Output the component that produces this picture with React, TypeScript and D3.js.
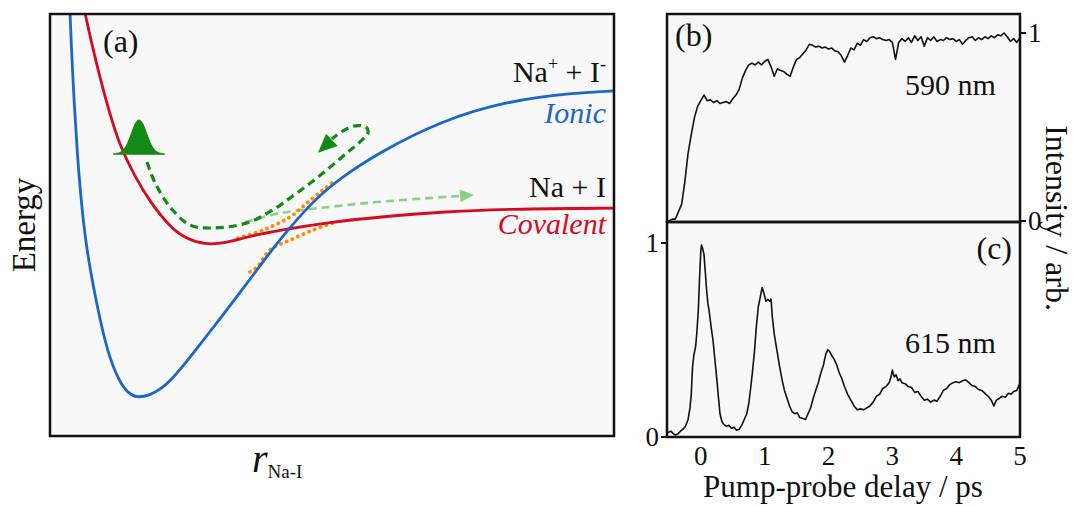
import React from "react";
import * as d3 from "d3";

// ---------------- Panel (a): schematic potential curves (arbitrary units) ----------------
const ionicR = [0.32, 0.337, 0.355, 0.39, 0.426, 0.479, 0.55, 0.638, 0.762, 0.887, 1.046, 1.241, 1.383, 1.543, 1.773, 1.968, 2.163, 2.394, 2.695, 3.05, 3.404, 3.759, 4.113, 4.663, 5.142, 5.851, 6.915, 8.103, 9.273, 10.0, 10.3];
const ionicE = [11.2, 10.57, 10.0, 8.91, 7.96, 6.78, 5.59, 4.53, 3.58, 2.75, 1.87, 1.26, 1.02, 0.9, 0.97, 1.11, 1.35, 1.71, 2.23, 2.84, 3.46, 4.1, 4.72, 5.57, 6.11, 6.73, 7.46, 7.94, 8.13, 8.18, 8.19];

const covalentR = [0.52, 0.55, 0.621, 0.727, 0.887, 1.064, 1.241, 1.507, 1.773, 2.128, 2.394, 2.748, 3.103, 3.493, 4.078, 4.965, 5.851, 6.915, 8.103, 10.0, 10.3];
const covalentE = [11.2, 10.57, 10.0, 9.38, 8.48, 7.61, 6.87, 6.14, 5.55, 4.95, 4.69, 4.53, 4.57, 4.72, 4.88, 5.07, 5.19, 5.31, 5.38, 5.4, 5.4];

// adiabatic (avoided crossing) curves, dotted
const upperAdiaR = [3.333, 3.777, 4.255, 4.557, 4.84, 5.018];
const upperAdiaE = [4.69, 4.88, 5.19, 5.52, 5.83, 6.02];
const lowerAdiaR = [3.546, 3.67, 3.901, 4.255, 4.663, 5.018];
const lowerAdiaE = [3.89, 4.0, 4.41, 4.64, 4.88, 5.05];

// wavepacket
const packetR = [1.117, 1.223, 1.294, 1.365, 1.436, 1.507, 1.578, 1.649, 1.72, 1.791, 1.862, 1.933, 2.039];
const packetH = [0, 0.024, 0.083, 0.223, 0.455, 0.699, 0.806, 0.699, 0.455, 0.223, 0.083, 0.024, 0];
const packetBase = 6.68;

// trajectory of the wavepacket (dark green dashed) and its arrow tip
const trajR = [1.72, 1.862, 2.128, 2.482, 2.89, 3.493, 3.954, 4.379, 4.84, 5.266, 5.496, 5.638, 5.603, 5.408, 5.195, 5.0];
const trajE = [6.49, 6.0, 5.43, 5.0, 4.93, 5.05, 5.36, 5.76, 6.23, 6.71, 6.97, 7.18, 7.32, 7.35, 7.23, 7.04];
const trajTip = [4.752, 6.71];

// dissociating fraction (light green dashed)
const leakR = [3.457, 4.078, 4.965, 5.851, 7.27];
const leakE = [5.07, 5.28, 5.43, 5.55, 5.69];
const leakTip = [7.518, 5.71];

// ---------------- Panel (b): 590 nm ----------------
const delay590 = [-0.53, -0.5, -0.45, -0.4, -0.35, -0.3, -0.25, -0.2, -0.15, -0.1, -0.05, 0.0, 0.05, 0.1, 0.15, 0.2, 0.25, 0.3, 0.35, 0.4, 0.45, 0.5, 0.55, 0.6, 0.65, 0.7, 0.75, 0.8, 0.85, 0.9, 0.95, 1.0, 1.05, 1.1, 1.15, 1.2, 1.25, 1.3, 1.35, 1.4, 1.45, 1.5, 1.55, 1.6, 1.65, 1.7, 1.75, 1.8, 1.85, 1.9, 1.95, 2.0, 2.05, 2.1, 2.15, 2.2, 2.25, 2.3, 2.35, 2.4, 2.45, 2.5, 2.55, 2.6, 2.65, 2.7, 2.75, 2.8, 2.85, 2.9, 2.95, 3.0, 3.05, 3.1, 3.15, 3.2, 3.25, 3.3, 3.35, 3.4, 3.45, 3.5, 3.55, 3.6, 3.65, 3.7, 3.75, 3.8, 3.85, 3.9, 3.95, 4.0, 4.05, 4.1, 4.15, 4.2, 4.25, 4.3, 4.35, 4.4, 4.45, 4.5, 4.55, 4.6, 4.65, 4.7, 4.75, 4.8, 4.85, 4.9, 4.95, 5.0];
const signal590 = [0.0, 0.0, 0.01, 0.01, 0.05, 0.09, 0.21, 0.36, 0.46, 0.55, 0.61, 0.64, 0.67, 0.64, 0.645, 0.63, 0.64, 0.625, 0.63, 0.635, 0.625, 0.65, 0.67, 0.7, 0.76, 0.8, 0.83, 0.84, 0.83, 0.845, 0.83, 0.85, 0.86, 0.82, 0.77, 0.81, 0.8, 0.795, 0.78, 0.77, 0.82, 0.86, 0.87, 0.89, 0.91, 0.94, 0.935, 0.925, 0.93, 0.92, 0.925, 0.915, 0.92, 0.905, 0.9, 0.88, 0.845, 0.88, 0.92, 0.91, 0.945, 0.935, 0.965, 0.955, 0.975, 0.98, 0.97, 0.975, 0.965, 0.96, 0.965, 0.95, 0.86, 0.95, 0.97, 0.955, 0.975, 0.95, 0.985, 0.96, 0.98, 0.93, 0.975, 0.96, 0.98, 0.955, 0.965, 0.96, 0.975, 0.965, 0.97, 0.955, 0.965, 0.94, 0.96, 0.975, 0.98, 0.96, 0.975, 0.965, 0.98, 0.97, 0.985, 0.975, 0.99, 0.985, 1.0, 0.98, 0.955, 0.97, 0.95, 0.975];

// ---------------- Panel (c): 615 nm ----------------
const delay615 = [-0.53, -0.5, -0.47, -0.44, -0.4, -0.36, -0.32, -0.28, -0.24, -0.2, -0.17, -0.15, -0.13, -0.11, -0.08, -0.06, -0.04, -0.02, 0.0, 0.01, 0.03, 0.05, 0.07, 0.09, 0.11, 0.13, 0.16, 0.19, 0.22, 0.25, 0.28, 0.3, 0.33, 0.36, 0.4, 0.44, 0.48, 0.52, 0.56, 0.6, 0.64, 0.68, 0.72, 0.75, 0.78, 0.81, 0.84, 0.87, 0.9, 0.93, 0.96, 0.99, 1.02, 1.05, 1.08, 1.1, 1.12, 1.15, 1.19, 1.23, 1.27, 1.31, 1.35, 1.39, 1.43, 1.47, 1.51, 1.55, 1.6, 1.64, 1.68, 1.72, 1.76, 1.8, 1.84, 1.88, 1.92, 1.96, 1.99, 2.02, 2.05, 2.09, 2.13, 2.17, 2.21, 2.25, 2.3, 2.35, 2.4, 2.45, 2.5, 2.55, 2.6, 2.65, 2.7, 2.75, 2.8, 2.85, 2.9, 2.95, 2.98, 3.0, 3.03, 3.06, 3.09, 3.12, 3.15, 3.2, 3.25, 3.3, 3.35, 3.4, 3.45, 3.5, 3.55, 3.6, 3.65, 3.7, 3.75, 3.8, 3.85, 3.9, 3.95, 4.0, 4.05, 4.1, 4.15, 4.2, 4.25, 4.3, 4.35, 4.4, 4.45, 4.5, 4.55, 4.59, 4.63, 4.68, 4.72, 4.77, 4.82, 4.86, 4.9, 4.95, 5.0];
const signal615 = [0.02, 0.025, 0.03, 0.02, 0.01, 0.015, 0.03, 0.04, 0.055, 0.09, 0.15, 0.22, 0.36, 0.42, 0.47, 0.55, 0.65, 0.82, 0.96, 0.99, 0.97, 0.94, 0.85, 0.76, 0.69, 0.65, 0.57, 0.5, 0.4, 0.3, 0.19, 0.12, 0.08, 0.065, 0.055, 0.06, 0.045, 0.05, 0.035, 0.04, 0.06, 0.09, 0.12, 0.17, 0.25, 0.34, 0.44, 0.57, 0.67, 0.72, 0.77, 0.74, 0.7, 0.71, 0.7, 0.71, 0.62, 0.53, 0.45, 0.37, 0.3, 0.24, 0.2, 0.16, 0.13, 0.12, 0.125, 0.1, 0.095, 0.09, 0.12, 0.15, 0.2, 0.24, 0.28, 0.33, 0.37, 0.43, 0.45, 0.44, 0.42, 0.4, 0.37, 0.33, 0.3, 0.26, 0.22, 0.19, 0.16, 0.14, 0.145, 0.14, 0.15, 0.16, 0.18, 0.21, 0.22, 0.25, 0.26, 0.28, 0.31, 0.345, 0.31, 0.32, 0.29, 0.3, 0.28, 0.275, 0.26, 0.255, 0.23, 0.235, 0.21, 0.19, 0.195, 0.18, 0.19, 0.185, 0.21, 0.24, 0.25, 0.27, 0.28, 0.285, 0.28, 0.29, 0.295, 0.28, 0.265, 0.26, 0.245, 0.24, 0.225, 0.21, 0.19, 0.16, 0.19, 0.2, 0.21, 0.205, 0.225, 0.22, 0.235, 0.24, 0.28];

const delayTicks = [0, 1, 2, 3, 4, 5];
const intensityTicks = [0, 1];

const FONT = "'Liberation Serif', 'Times New Roman', Times, serif";
const BLUE = "#1b66c9";
const RED = "#d60a20";
const GREEN = "#138a13";
const LIGHTGREEN = "#8ccf8c";
const ORANGE = "#ff8c00";
const PANEL_BG = "#f8f8f8";

function arrowHead(tip: [number, number], from: [number, number], len: number, halfW: number) {
  const dx = tip[0] - from[0];
  const dy = tip[1] - from[1];
  const d = Math.hypot(dx, dy) || 1;
  const ux = dx / d, uy = dy / d;
  const bx = tip[0] - ux * len, by = tip[1] - uy * len;
  const nx = -uy, ny = ux;
  return `${tip[0]},${tip[1]} ${bx + nx * halfW},${by + ny * halfW} ${bx - nx * halfW},${by - ny * halfW}`;
}

export default function App() {
  // panel (a) geometry
  const aL = 50, aR = 614, aT = 14, aB = 436;
  const xA = d3.scaleLinear().domain([0, 10]).range([aL, aR]);
  const yA = d3.scaleLinear().domain([0, 10]).range([aB, aT]);

  const pts = (rs: number[], es: number[]) => rs.map((r, i) => [r, es[i]] as [number, number]);
  const lineA = d3.line<[number, number]>().x(d => xA(d[0])).y(d => yA(d[1])).curve(d3.curveCatmullRom.alpha(0.5));
  const smoothA = d3.line<[number, number]>().x(d => xA(d[0])).y(d => yA(d[1])).curve(d3.curveBasis);

  const packetArea = d3
    .area<number>()
    .x((_, i) => xA(packetR[i]))
    .y0(() => yA(packetBase))
    .y1((h) => yA(packetBase + h))
    .curve(d3.curveMonotoneX);

  const trajPts = pts(trajR, trajE);
  const trajLast = trajPts[trajPts.length - 1];
  const trajArrow = arrowHead([xA(trajTip[0]), yA(trajTip[1])], [xA(trajLast[0]) + 3, yA(trajLast[1]) - 2], 19, 8.5);
  const leakPts = pts(leakR, leakE);
  const leakLast = leakPts[leakPts.length - 1];
  const leakArrow = arrowHead([xA(leakTip[0]), yA(leakTip[1])], [xA(leakLast[0]), yA(leakLast[1])], 14, 6.5);

  // panels (b), (c)
  const pL = 667, pR = 1020, bT = 14, mid = 222, cB = 437;
  const xT = d3.scaleLinear().domain([-0.53, 5]).range([pL, pR]);
  const yB = d3.scaleLinear().domain([0, 1]).range([221, 33]);
  const yC = d3.scaleLinear().domain([0, 1]).range([437, 243]);

  const line590 = d3.line<number>().x((_, i) => xT(delay590[i])).y(v => yB(v));
  const line615 = d3.line<number>().x((_, i) => xT(delay615[i])).y(v => yC(v));

  return (
    <svg
      width={1079}
      height={506}
      viewBox="0 0 1079 506"
      fontFamily={FONT}
      style={{ position: "absolute", left: 0, top: 0, background: "#fff", fontFamily: FONT }}
    >
      <defs>
        <clipPath id="clipA">
          <rect x={aL} y={aT} width={aR - aL} height={aB - aT} />
        </clipPath>
      </defs>

      {/* ---------- Panel (a) ---------- */}
      <rect x={aL} y={aT} width={aR - aL} height={aB - aT} fill={PANEL_BG} />
      <g clipPath="url(#clipA)">
        <path d={lineA(leakPts) || ""} fill="none" stroke={LIGHTGREEN} strokeWidth={2.6} strokeDasharray="8 5" />
        <polygon points={leakArrow} fill={LIGHTGREEN} />
        <path d={lineA(pts(upperAdiaR, upperAdiaE)) || ""} fill="none" stroke={ORANGE} strokeWidth={3.8} strokeDasharray="0.1 6" strokeLinecap="round" />
        <path d={lineA(pts(lowerAdiaR, lowerAdiaE)) || ""} fill="none" stroke={ORANGE} strokeWidth={3.8} strokeDasharray="0.1 6" strokeLinecap="round" />
        <path d={smoothA(pts(covalentR, covalentE)) || ""} fill="none" stroke={RED} strokeWidth={2.8} />
        <path d={smoothA(pts(ionicR, ionicE)) || ""} fill="none" stroke={BLUE} strokeWidth={2.8} />
        <path d={lineA(trajPts) || ""} fill="none" stroke={GREEN} strokeWidth={3.2} strokeDasharray="8 5" />
        <polygon points={trajArrow} fill={GREEN} />
        <path d={packetArea(packetH) || ""} fill={GREEN} stroke={GREEN} strokeWidth={1.2} />
      </g>
      <rect x={aL} y={aT} width={aR - aL} height={aB - aT} fill="none" stroke="#111" strokeWidth={2.5} />

      <text x={103} y={52} fontSize={32} fill="#111">(a)</text>
      <text x={606} y={82} fontSize={30} textAnchor="end" fill="#111">
        Na<tspan fontSize={18} dy={-12}>+</tspan>
        <tspan dy={12}> + I</tspan>
        <tspan fontSize={18} dy={-12}>-</tspan>
      </text>
      <text x={606} y={123} fontSize={30} textAnchor="end" fontStyle="italic" fill={BLUE}>Ionic</text>
      <text x={606} y={197} fontSize={30} textAnchor="end" fill="#111">Na + I</text>
      <text x={606} y={234} fontSize={30} textAnchor="end" fontStyle="italic" fill={RED}>Covalent</text>

      <text transform="translate(35,225) rotate(-90)" fontSize={33} textAnchor="middle" fill="#111">Energy</text>
      <text x={252} y={472} fontSize={40} fontStyle="italic" fill="#111">
        r<tspan fontSize={19} fontStyle="normal" dy={6}>Na-I</tspan>
      </text>

      {/* ---------- Panels (b) & (c) ---------- */}
      <rect x={pL} y={bT} width={pR - pL} height={cB - bT} fill={PANEL_BG} />
      <path d={line590(signal590) || ""} fill="none" stroke="#111" strokeWidth={1.6} strokeLinejoin="round" />
      <path d={line615(signal615) || ""} fill="none" stroke="#111" strokeWidth={1.6} strokeLinejoin="round" />
      <rect x={pL} y={bT} width={pR - pL} height={mid - bT} fill="none" stroke="#111" strokeWidth={2.5} />
      <rect x={pL} y={mid} width={pR - pL} height={cB - mid} fill="none" stroke="#111" strokeWidth={2.5} />

      {/* right axis of (b) */}
      {intensityTicks.map(t => (
        <g key={"b" + t}>
          <line x1={pR} x2={pR + 6} y1={yB(t)} y2={yB(t)} stroke="#111" strokeWidth={2} />
          <text x={pR + 8} y={yB(t) + 9} fontSize={27} fill="#111">{t}</text>
        </g>
      ))}
      {/* left axis of (c) */}
      {intensityTicks.map(t => (
        <g key={"c" + t}>
          <line x1={pL - 6} x2={pL} y1={yC(t)} y2={yC(t)} stroke="#111" strokeWidth={2} />
          <text x={pL - 8} y={yC(t) + 9} fontSize={27} textAnchor="end" fill="#111">{t}</text>
        </g>
      ))}
      {/* bottom axis */}
      {delayTicks.map(t => (
        <text key={"x" + t} x={xT(t)} y={465} fontSize={27} textAnchor="middle" fill="#111">{t}</text>
      ))}

      <text x={675} y={46} fontSize={32} fill="#111">(b)</text>
      <text x={1012} y={259} fontSize={32} textAnchor="end" fill="#111">(c)</text>
      <text x={905} y={95} fontSize={30} fill="#111">590 nm</text>
      <text x={905} y={353} fontSize={30} fill="#111">615 nm</text>
      <text x={843} y={497} fontSize={31} textAnchor="middle" fill="#111">Pump-probe delay / ps</text>
      <text transform="translate(1046,218) rotate(90)" fontSize={32} textAnchor="middle" fill="#111">Intensity / arb.</text>
    </svg>
  );
}
